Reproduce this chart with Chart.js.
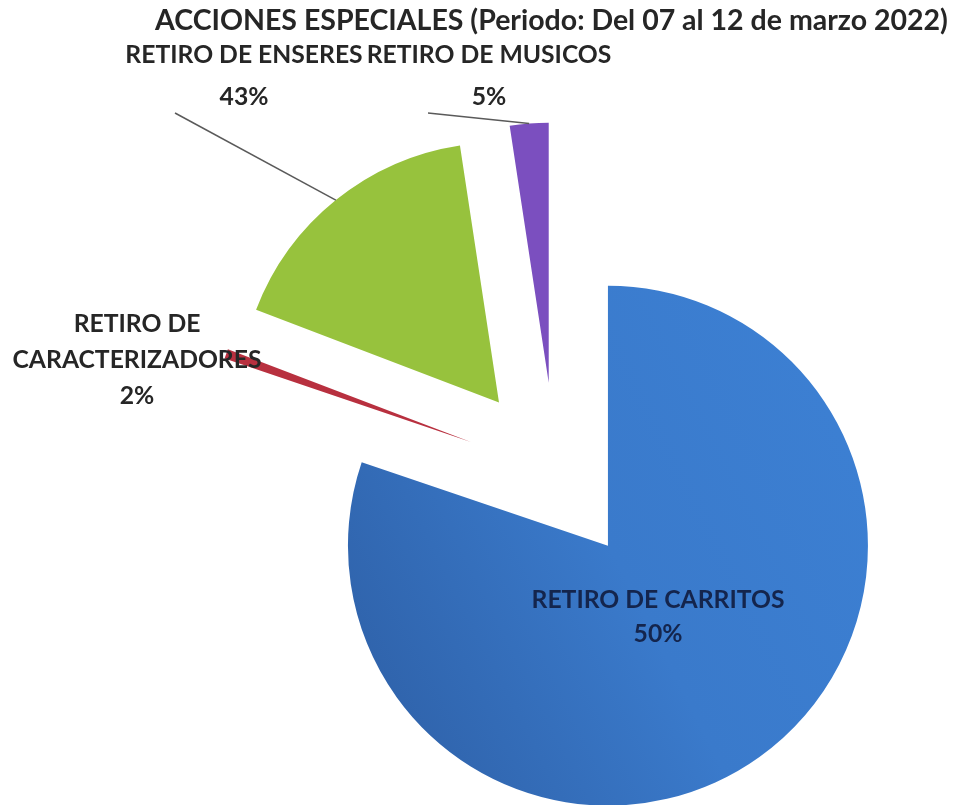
<!DOCTYPE html>
<html>
<head>
<meta charset="utf-8">
<script src="https://cdn.jsdelivr.net/npm/chart.js@4.4.1/dist/chart.umd.min.js"></script>
<style>
  html, body { margin: 0; padding: 0; background: #fff; }
  canvas { display: block; }
</style>
</head>
<body>
<canvas id="chart" width="957" height="805"></canvas>
<script>
const chartTitle = 'ACCIONES ESPECIALES (Periodo: Del 07 al 12 de marzo 2022)';
const categories = ['RETIRO DE CARRITOS', 'RETIRO DE CARACTERIZADORES', 'RETIRO DE ENSERES', 'RETIRO DE MUSICOS'];
// slice sizes as they are drawn in the picture (share of the circle)
const sliceShare = [80.2, 0.6, 16.8, 2.4];
// percentages printed on the labels (the source chart does not match its slices)
const labelPercent = ['50%', '2%', '43%', '5%'];
const sliceColors = ['#3a7bcd', '#b8303f', '#97c23d', '#7b4fbf'];

// label placement: name lines, centre x, first baseline, line height, leader start
const labelLayout = [
  { lines: ['RETIRO DE CARRITOS'], x: 658, y: 608, lh: 34, color: '#14254d' },
  { lines: ['RETIRO DE', 'CARACTERIZADORES'], x: 137, y: 332, lh: 36, color: '#262626' },
  { lines: ['RETIRO DE ENSERES'], x: 244, y: 63, lh: 42, color: '#262626', leader: [175, 113] },
  { lines: ['RETIRO DE MUSICOS'], x: 489, y: 63, lh: 42, color: '#262626', leader: [428, 113] },
];

const explode = 90; // px each slice is pulled out from the centre
const fontFamily = 'Lato, "Open Sans", sans-serif';

function sliceFill(c) {
  const i = c.dataIndex;
  const area = c.chart.chartArea;
  if (!area || i !== 0) return sliceColors[i];
  const cx = (area.left + area.right) / 2;
  const cy = (area.top + area.bottom) / 2;
  const grad = c.chart.ctx.createLinearGradient(cx - 250, cy + 200, cx + 260, cy - 60);
  grad.addColorStop(0, '#2e60a7');
  grad.addColorStop(0.55, '#3a7acb');
  grad.addColorStop(1, '#3c7fd2');
  return grad;
}

function fitSize(ctx, text, target) {
  ctx.font = `bold 100px ${fontFamily}`;
  return (100 * target) / ctx.measureText(text).width;
}

// chart.js offset also grows the radius, so move every arc out by hand instead
const explodePlugin = {
  id: 'explodeArcs',
  beforeDatasetsDraw(chart) {
    chart.getDatasetMeta(0).data.forEach((arc) => {
      if (arc.exploded) return;
      const baseDraw = arc.draw;
      arc.draw = function drawMoved(ctx, area) {
        const mid = (this.startAngle + this.endAngle) / 2;
        ctx.save();
        ctx.translate(Math.cos(mid) * explode, Math.sin(mid) * explode);
        baseDraw.call(this, ctx, area);
        ctx.restore();
      };
      arc.exploded = true;
    });
  },
};

const labelPlugin = {
  id: 'pieLabels',
  afterDatasetsDraw(chart) {
    const { ctx } = chart;
    const arcs = chart.getDatasetMeta(0).data;
    const labelSize = fitSize(ctx, 'CARACTERIZADORES', 249);
    const titleSize = fitSize(ctx, chartTitle, 793);

    ctx.save();
    ctx.textAlign = 'center';
    ctx.textBaseline = 'alphabetic';

    // leader lines to the middle of the outer edge
    ctx.strokeStyle = '#5a5a5a';
    ctx.lineWidth = 1.5;
    arcs.forEach((arc, i) => {
      const lay = labelLayout[i];
      if (!lay.leader) return;
      const { x, y, startAngle, endAngle, outerRadius } = arc.getProps(['x', 'y', 'startAngle', 'endAngle', 'outerRadius'], true);
      const mid = (startAngle + endAngle) / 2;
      const r = outerRadius + explode;
      ctx.beginPath();
      ctx.moveTo(lay.leader[0], lay.leader[1]);
      ctx.lineTo(x + Math.cos(mid) * r, y + Math.sin(mid) * r);
      ctx.stroke();
    });

    // data labels
    ctx.font = `bold ${labelSize}px ${fontFamily}`;
    labelLayout.forEach((lay, i) => {
      ctx.fillStyle = lay.color;
      const lines = lay.lines.concat(labelPercent[i]);
      lines.forEach((t, k) => ctx.fillText(t, lay.x, lay.y + k * lay.lh));
    });

    // title
    ctx.font = `bold ${titleSize}px ${fontFamily}`;
    ctx.fillStyle = '#262626';
    ctx.fillText(chartTitle, 551.5, 30);
    ctx.restore();
  },
};

// eslint-disable-next-line no-undef, no-new
new Chart(document.getElementById('chart'), {
  type: 'pie',
  data: {
    labels: categories,
    datasets: [
      {
        data: sliceShare,
        backgroundColor: sliceFill,
        borderWidth: 0,
        radius: 260,
      },
    ],
  },
  options: {
    responsive: false,
    animation: false,
    layout: {
      padding: { left: 154, top: 140, right: 0, bottom: 0 },
    },
    plugins: {
      legend: { display: false },
      tooltip: { enabled: false },
      title: { display: false },
    },
  },
  plugins: [explodePlugin, labelPlugin],
});
</script>
</body>
</html>
